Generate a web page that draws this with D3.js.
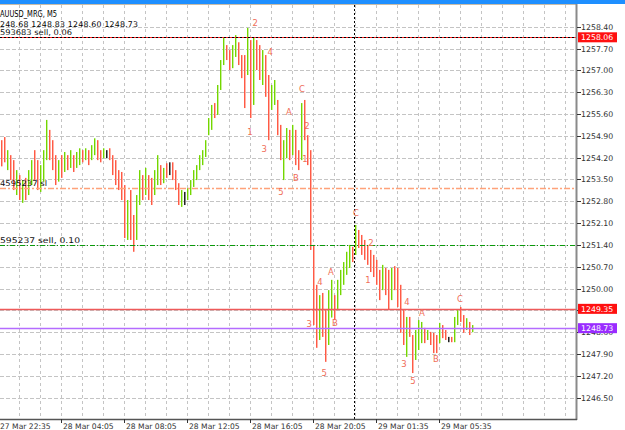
<!DOCTYPE html>
<html>
<head>
<meta charset="utf-8">
<script src="https://cdn.jsdelivr.net/npm/d3@7"></script>
<style>
  body { margin: 0; background: #fff; }
  svg { display: block; }
  text { font-family: "DejaVu Sans", sans-serif; }
</style>
</head>
<body>
<div id="chart"></div>
<script>
// M5 bars: [open, high, low, close]
const bars = [
  [1254.6,1254.76,1253.92,1254.0],[1254.7,1254.86,1254.05,1254.2],[1253.9,1254.44,1253.80,1254.3],
  [1254.2,1254.28,1253.48,1253.6],[1254.0,1254.12,1253.16,1253.3],[1253.1,1253.80,1253.00,1253.7],
  [1253.5,1253.64,1252.84,1252.95],[1252.9,1253.48,1252.75,1253.3],[1253.4,1253.55,1252.84,1253.0],
  [1253.1,1253.80,1253.00,1253.7],[1253.4,1254.12,1253.32,1254.0],[1254.3,1254.44,1253.48,1253.6],
  [1254.0,1254.12,1253.16,1253.3],[1253.2,1253.96,1253.10,1253.9],[1253.5,1254.44,1253.43,1254.3],
  [1254.2,1255.41,1254.12,1255.2],[1255.0,1255.09,1254.12,1254.3],[1254.6,1254.76,1253.80,1253.9],
  [1254.1,1254.28,1253.32,1253.4],[1253.5,1254.12,1253.43,1254.0],[1254.1,1254.28,1253.55,1253.7],
  [1253.8,1254.38,1253.74,1254.3],[1254.2,1254.28,1253.80,1253.9],[1253.9,1254.44,1253.87,1254.3],
  [1254.2,1254.28,1253.74,1253.8],[1253.9,1254.38,1253.87,1254.3],[1254.0,1254.50,1253.96,1254.4],
  [1254.4,1254.44,1254.05,1254.1],[1254.15,1254.50,1254.12,1254.45],[1254.4,1254.44,1253.96,1254.0],
  [1254.2,1254.60,1254.12,1254.5],[1254.35,1254.82,1254.28,1254.75],[1254.7,1254.76,1254.12,1254.2],
  [1254.35,1254.44,1254.05,1254.1],[1254.2,1254.50,1254.18,1254.4],[1254.3,1254.44,1254.18,1254.3],
  [1254.45,1254.50,1254.12,1254.2],[1254.2,1254.28,1253.64,1253.7],[1254.0,1254.12,1253.32,1253.4],
  [1253.7,1253.80,1253.16,1253.2],[1253.6,1253.74,1252.84,1252.9],[1253.2,1253.32,1251.62,1251.8],
  [1251.7,1252.84,1251.56,1252.7],[1253.0,1253.16,1251.56,1251.7],[1252.2,1252.36,1251.18,1251.3],
  [1251.7,1253.00,1251.56,1252.9],[1252.8,1253.80,1252.68,1253.7],[1253.6,1253.64,1252.84,1252.95],
  [1253.1,1253.87,1253.00,1253.8],[1253.55,1253.64,1252.84,1253.0],[1253.4,1253.55,1252.68,1252.8],
  [1253.1,1253.80,1253.00,1253.7],[1253.4,1254.28,1253.32,1254.2],[1253.9,1253.96,1253.32,1253.4],
  [1253.45,1253.87,1253.38,1253.8],[1253.95,1254.02,1253.55,1253.6],[1253.85,1254.05,1253.64,1253.85],
  [1254.0,1254.05,1253.48,1253.55],[1253.7,1253.80,1253.16,1253.2],[1253.3,1253.38,1252.68,1252.75],
  [1252.7,1253.16,1252.62,1253.1],[1252.9,1253.10,1252.68,1252.9],[1252.9,1253.22,1252.84,1253.15],
  [1253.1,1253.48,1253.00,1253.4],[1253.3,1253.80,1253.26,1253.75],[1253.55,1253.96,1253.48,1253.9],
  [1253.85,1254.28,1253.80,1254.2],[1254.0,1254.44,1253.96,1254.4],[1254.3,1254.76,1254.22,1254.7],
  [1254.95,1255.47,1254.92,1255.4],[1255.15,1255.89,1255.09,1255.8],[1255.9,1255.95,1255.47,1255.5],
  [1255.6,1256.53,1255.57,1256.5],[1256.4,1257.33,1256.37,1257.3],[1257.2,1258.04,1257.17,1258.0],
  [1257.75,1257.81,1257.33,1257.4],[1257.55,1257.65,1257.01,1257.1],[1257.1,1257.81,1257.07,1257.7],
  [1257.5,1258.13,1257.43,1258.05],[1257.85,1257.90,1257.17,1257.25],[1257.4,1257.49,1256.75,1256.85],
  [1257.3,1257.49,1255.79,1255.9],[1256.9,1258.36,1256.85,1258.1],[1257.9,1257.97,1255.47,1255.6],
  [1256.0,1258.07,1255.89,1257.9],[1257.9,1257.97,1257.01,1257.1],[1257.7,1257.81,1256.69,1256.8],
  [1256.6,1257.65,1256.53,1257.5],[1257.4,1257.49,1256.15,1256.3],[1256.7,1256.85,1254.76,1254.9],
  [1255.8,1256.53,1255.73,1256.45],[1256.0,1256.69,1255.89,1256.6],[1255.95,1256.05,1254.92,1255.0],
  [1255.2,1255.25,1254.12,1254.2],[1253.6,1254.76,1253.48,1254.7],[1254.3,1255.15,1254.18,1255.05],
  [1255.0,1255.09,1254.12,1254.2],[1254.35,1255.25,1254.28,1255.2],[1255.0,1255.09,1253.96,1254.05],
  [1254.35,1254.44,1253.80,1253.9],[1254.2,1255.95,1254.12,1255.85],[1255.95,1256.05,1254.76,1254.85],
  [1254.8,1254.92,1253.96,1254.05],[1254.3,1254.44,1251.24,1251.4],[1251.3,1251.40,1248.83,1249.0],
  [1249.9,1250.12,1248.10,1248.3],[1248.45,1249.79,1248.35,1249.7],[1249.75,1249.86,1248.45,1248.55],
  [1249.2,1249.31,1247.65,1247.8],[1248.3,1249.95,1248.19,1249.85],[1249.15,1250.28,1249.07,1250.2],
  [1249.7,1249.79,1248.99,1249.05],[1249.4,1250.28,1249.31,1250.2],[1249.85,1250.60,1249.79,1250.5],
  [1250.2,1250.85,1250.12,1250.8],[1250.5,1251.18,1250.44,1251.1],[1250.7,1251.40,1250.66,1251.3],
  [1251.3,1251.34,1250.85,1250.9],[1251.1,1252.04,1251.08,1251.95],[1251.85,1251.88,1251.30,1251.4],
  [1251.65,1251.72,1251.08,1251.15],[1251.5,1251.56,1250.92,1251.0],[1251.35,1251.40,1250.76,1250.8],
  [1251.2,1251.24,1250.53,1250.6],[1251.0,1251.08,1250.37,1250.45],[1250.85,1250.92,1250.12,1250.2],
  [1250.5,1250.60,1249.63,1249.7],[1250.0,1250.76,1249.95,1250.7],[1250.6,1250.66,1249.79,1249.85],
  [1250.5,1250.60,1249.31,1249.4],[1249.7,1250.66,1249.63,1250.6],[1250.65,1250.72,1249.95,1250.0],
  [1250.6,1250.66,1249.41,1249.5],[1250.0,1250.12,1248.58,1248.7],[1249.2,1249.31,1248.19,1248.3],
  [1247.9,1249.09,1247.81,1249.0],[1249.0,1249.09,1248.45,1248.5],[1248.45,1248.51,1247.29,1247.4],
  [1247.8,1248.67,1247.71,1248.6],[1248.1,1248.99,1248.03,1248.9],[1248.3,1248.93,1248.25,1248.85],
  [1248.7,1248.74,1248.25,1248.3],[1248.4,1248.67,1248.35,1248.6],[1248.55,1248.61,1248.19,1248.25],
  [1248.5,1248.58,1247.93,1248.0],[1248.45,1248.51,1247.93,1248.05],[1248.3,1248.90,1248.25,1248.85],
  [1248.8,1248.83,1248.41,1248.45],[1248.6,1248.67,1248.35,1248.4],[1248.38,1248.45,1248.28,1248.38],
  [1248.42,1248.45,1248.28,1248.32],[1248.35,1249.09,1248.28,1249.0],[1248.9,1249.31,1248.83,1249.25],
  [1249.35,1249.41,1248.93,1249.0],[1249.1,1249.15,1248.58,1248.65],[1248.7,1249.05,1248.67,1249.0],
  [1248.9,1248.93,1248.51,1248.6],[1248.68,1248.83,1248.60,1248.73]
];

// price axis ticks
const priceTicks = [1258.40,1257.70,1257.00,1256.30,1255.60,1254.90,1254.20,1253.50,1252.80,
  1252.10,1251.40,1250.70,1250.00,1249.30,1248.60,1247.90,1247.20,1246.50];

// time axis labels and the bar they sit on
const timeLabels = ["27 Mar 22:35","28 Mar 04:05","28 Mar 08:05","28 Mar 12:05",
  "28 Mar 16:05","28 Mar 20:05","29 Mar 01:35","29 Mar 05:35"];
const timeBars = [-1, 20, 41, 62, 83, 104, 125, 146];

// horizontal levels
const levelPrices = [1258.06, 1253.23, 1251.40, 1249.35, 1248.73];
const levelNames = ["593683 sell, 0.06", "4595237 sl", "595237 sell, 0.10", "", ""];

// elliott wave labels: text, bar index, price
const waveText  = ["2","4","C","A","2","1","3","1","B","5",
                   "C","2","A","4","1","3","B","5",
                   "4","A","C","B","3","5"];
const waveBar   = [84.7,89.7,100.3,96,102,83,87.7,101.3,98.3,93.3,
                   118.3,123.3,110,106.3,122.3,102.7,111.3,107.7,
                   135.3,140.3,153,145,134.3,137.3];
const wavePrice = [1258.52,1257.59,1256.40,1255.66,1255.21,1255.02,1254.47,1254.15,1253.54,1253.09,
                   1252.42,1251.46,1250.53,1250.21,1250.28,1248.85,1248.89,1247.28,
                   1249.56,1249.21,1249.66,1247.73,1247.57,1247.02];

const cursorBar = 117.7;
const lastPrice = 1248.73;

const W = 625, H = 430;
const plotRight = 576, plotBottom = 419, plotTop = 5;

const svg = d3.select("#chart").append("svg")
    .attr("width", W).attr("height", H);

svg.append("rect").attr("width", W).attr("height", H).attr("fill", "#fff");

const x = d3.scaleLinear().domain([0, bars.length - 1]).range([1, 472]);
const y = d3.scaleLinear().domain([1246.50, 1258.40]).range([397.7, 26.7]);

const plot = svg.append("g");

// grid
plot.selectAll(".hgrid").data(priceTicks).enter().append("line")
    .attr("x1", 0).attr("x2", plotRight)
    .attr("y1", d => Math.round(y(d)) + 0.5).attr("y2", d => Math.round(y(d)) + 0.5)
    .attr("stroke", "#c4c4c4").attr("stroke-dasharray", "4,2");

const vgrid = d3.range(-1, 192, 7);
plot.selectAll(".vgrid").data(vgrid).enter().append("line")
    .attr("x1", d => Math.round(x(d)) + 0.5).attr("x2", d => Math.round(x(d)) + 0.5)
    .attr("y1", plotTop).attr("y2", plotBottom)
    .attr("stroke", "#c4c4c4").attr("stroke-dasharray", "3,3");

// bars: bright line plus a pale neighbour
function barColor(d, pale) {
  if (d[0] === d[3]) return pale ? "#888" : "#222";
  if (d[3] > d[0]) return pale ? "#c6f09a" : "#74d600";
  return pale ? "#ffb3a8" : "#ff5a45";
}
const barG = plot.append("g");
barG.selectAll(".bp").data(bars).enter().append("line")
    .attr("x1", (d, i) => Math.round(x(i)) + 1.5).attr("x2", (d, i) => Math.round(x(i)) + 1.5)
    .attr("y1", d => y(d[1])).attr("y2", d => y(d[2]))
    .attr("stroke", d => barColor(d, true)).attr("stroke-width", 1);
barG.selectAll(".bb").data(bars).enter().append("line")
    .attr("x1", (d, i) => Math.round(x(i)) + 0.5).attr("x2", (d, i) => Math.round(x(i)) + 0.5)
    .attr("y1", d => y(d[1])).attr("y2", d => y(d[2]))
    .attr("stroke", d => barColor(d, false)).attr("stroke-width", 1);

// levels
const ly = p => Math.round(y(p)) + 0.5;
plot.append("line").attr("x1", 0).attr("x2", plotRight)
    .attr("y1", ly(levelPrices[0])).attr("y2", ly(levelPrices[0]))
    .attr("stroke", "#ff2020");
plot.append("line").attr("x1", 0).attr("x2", plotRight)
    .attr("y1", ly(levelPrices[0])).attr("y2", ly(levelPrices[0]))
    .attr("stroke", "#000").attr("stroke-dasharray", "2,2");
plot.append("line").attr("x1", 0).attr("x2", plotRight)
    .attr("y1", ly(levelPrices[1])).attr("y2", ly(levelPrices[1]))
    .attr("stroke", "#ffa27a").attr("stroke-width", 1.5).attr("stroke-dasharray", "6,2,2,2");
plot.append("line").attr("x1", 0).attr("x2", plotRight)
    .attr("y1", ly(levelPrices[2])).attr("y2", ly(levelPrices[2]))
    .attr("stroke", "#0a9a0a").attr("stroke-width", 1.2).attr("stroke-dasharray", "5,2,1,2");
plot.append("line").attr("x1", 0).attr("x2", plotRight)
    .attr("y1", ly(levelPrices[3])).attr("y2", ly(levelPrices[3]))
    .attr("stroke", "#ee5a5a").attr("stroke-width", 1.5);
plot.append("line").attr("x1", 0).attr("x2", plotRight)
    .attr("y1", ly(levelPrices[4])).attr("y2", ly(levelPrices[4]))
    .attr("stroke", "#b46cff").attr("stroke-width", 1.5);

// cursor line
plot.append("line")
    .attr("x1", Math.round(x(cursorBar)) + 0.5).attr("x2", Math.round(x(cursorBar)) + 0.5)
    .attr("y1", plotTop).attr("y2", plotBottom)
    .attr("stroke", "#000").attr("stroke-dasharray", "2,2");

// wave labels
plot.selectAll(".wave").data(waveText).enter().append("text")
    .attr("x", (d, i) => x(waveBar[i]))
    .attr("y", (d, i) => y(wavePrice[i]) + 3)
    .attr("text-anchor", "middle")
    .attr("font-size", "8.5px")
    .attr("fill", "#f06e58")
    .text(d => d);

// level captions
const capLen = [72, 47, 80];
levelNames.forEach((t, i) => {
  if (!t) return;
  svg.append("text").attr("x", 0).attr("y", y(levelPrices[i]) - 2)
      .attr("font-size", "7.8px").attr("fill", "#111")
      .attr("textLength", capLen[i]).attr("lengthAdjust", "spacingAndGlyphs")
      .text(t);
});

// header
svg.append("rect").attr("x", 0).attr("y", 0).attr("width", W).attr("height", 4).attr("fill", "#1e8fff");
svg.append("line").attr("x1", 0).attr("x2", plotRight).attr("y1", 4.5).attr("y2", 4.5).attr("stroke", "#c8bca8");
svg.append("text").attr("x", 0).attr("y", 16.5).attr("font-size", "8.2px").attr("fill", "#000")
    .attr("textLength", 57).attr("lengthAdjust", "spacingAndGlyphs").text("AUUSD_MRG, M5");
const last = bars[bars.length - 1];
svg.append("text").attr("x", 0).attr("y", 27).attr("font-size", "7.8px").attr("fill", "#000")
    .attr("textLength", 138).attr("lengthAdjust", "spacing")
    .text(String(last[0].toFixed(2)).slice(1) + " " + last[1].toFixed(2) + " " + last[2].toFixed(2) + " " + last[3].toFixed(2));

// axes frame
svg.append("line").attr("x1", plotRight + 0.5).attr("x2", plotRight + 0.5).attr("y1", 4).attr("y2", plotBottom + 1)
    .attr("stroke", "#8a8a8a").attr("stroke-width", 2);
svg.append("line").attr("x1", 0).attr("x2", plotRight + 1).attr("y1", plotBottom + 0.5).attr("y2", plotBottom + 0.5)
    .attr("stroke", "#555").attr("stroke-width", 1.5);

// price axis
const pa = svg.append("g");
pa.selectAll(".pt").data(priceTicks).enter().append("line")
    .attr("x1", plotRight + 1).attr("x2", plotRight + 5)
    .attr("y1", d => Math.round(y(d)) + 0.5).attr("y2", d => Math.round(y(d)) + 0.5)
    .attr("stroke", "#333");
pa.selectAll(".pl").data(priceTicks).enter().append("text")
    .attr("x", 581).attr("y", d => y(d) + 3)
    .attr("font-size", "7.8px").attr("fill", "#333")
    .text(d => d.toFixed(2));

// price boxes
const boxes = [[levelPrices[0], "#ff1010"], [levelPrices[3], "#ff1010"], [lastPrice, "#9a2cff"]];
boxes.forEach(b => {
  pa.append("rect").attr("x", 578).attr("y", y(b[0]) - 5).attr("width", 39).attr("height", 10).attr("fill", b[1]);
  pa.append("text").attr("x", 581).attr("y", y(b[0]) + 3)
      .attr("font-size", "7.8px").attr("fill", "#fff").text(b[0].toFixed(2));
});

// time axis
const ta = svg.append("g");
timeBars.forEach((b, i) => {
  const tx = Math.round(x(b)) + 0.5;
  ta.append("line").attr("x1", tx).attr("x2", tx).attr("y1", plotBottom).attr("y2", plotBottom + 4).attr("stroke", "#333");
  ta.append("text").attr("x", tx + 1.5).attr("y", 428.5)
      .attr("font-size", "7.6px").attr("fill", "#333").text(timeLabels[i]);
});
</script>
</body>
</html>
